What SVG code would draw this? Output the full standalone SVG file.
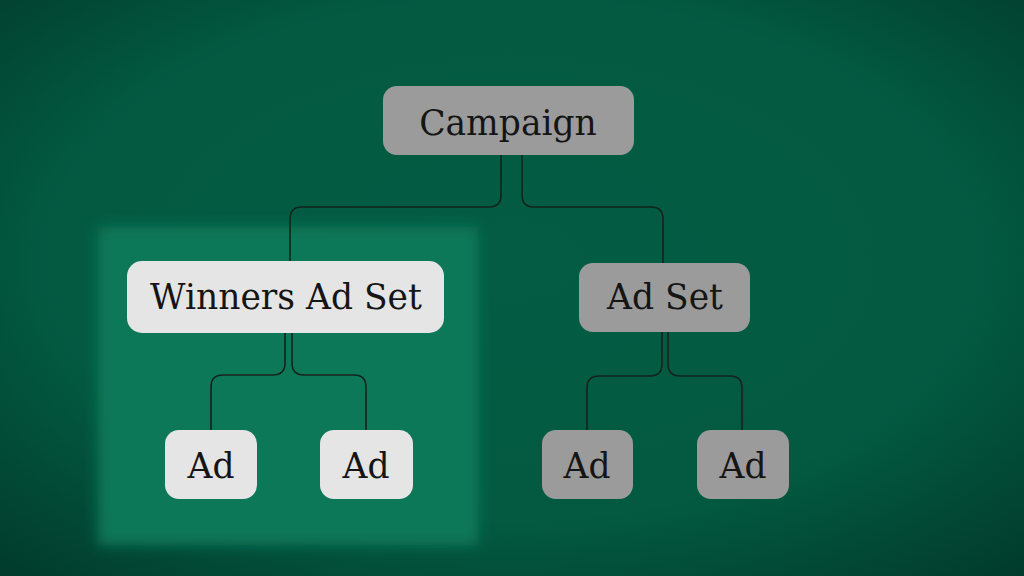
<svg xmlns="http://www.w3.org/2000/svg" width="1024" height="576" viewBox="0 0 1024 576">
<defs>
<radialGradient id="bg" cx="50%" cy="45%" r="75%">
<stop offset="0" stop-color="#035c43"/>
<stop offset="0.6" stop-color="#035a41"/>
<stop offset="1" stop-color="#013a2a"/>
</radialGradient>
<filter id="blur" x="-20%" y="-20%" width="140%" height="140%"><feGaussianBlur stdDeviation="7"/></filter>
<style>
.box-dark{fill:#9b9b9b}
.box-light{fill:#e5e5e5}
.lbl{font-family:"DejaVu Serif","Liberation Serif",serif;font-size:34.5px;fill:#151515;text-anchor:middle}
.conn{fill:none;stroke:#14241c;stroke-width:1.6}
</style>
</defs>
<rect width="1024" height="576" fill="url(#bg)"/>
<rect x="98" y="227" width="380" height="318" fill="#0a7858" filter="url(#blur)"/>
<g id="connectors">
<path class="conn" d="M501 155 V195 Q501 207 489 207 H302 Q290 207 290 219 V262"/>
<path class="conn" d="M522 155 V195 Q522 207 534 207 H651 Q663 207 663 219 V263"/>
<path class="conn" d="M285 333 V363 Q285 375 273 375 H223 Q211 375 211 387 V430"/>
<path class="conn" d="M292 333 V363 Q292 375 304 375 H354 Q366 375 366 387 V430"/>
<path class="conn" d="M662 332 V364 Q662 376 650 376 H599 Q587 376 587 388 V430"/>
<path class="conn" d="M668 332 V364 Q668 376 680 376 H730 Q742 376 742 388 V430"/>
</g>
<g id="campaign"><rect class="box-dark" x="383" y="86" width="251" height="69" rx="14"/><text class="lbl" x="508" y="135">Campaign</text></g>
<g id="winners-ad-set"><rect class="box-light" x="127" y="261" width="317" height="72" rx="15"/><text class="lbl" x="286" y="309">Winners Ad Set</text></g>
<g id="ad-set"><rect class="box-dark" x="579" y="263" width="171" height="69" rx="14"/><text class="lbl" x="665" y="309">Ad Set</text></g>
<g id="ad-1"><rect class="box-light" x="165" y="430" width="92" height="69" rx="14"/><text class="lbl" x="211" y="478">Ad</text></g>
<g id="ad-2"><rect class="box-light" x="320" y="430" width="93" height="69" rx="14"/><text class="lbl" x="366" y="478">Ad</text></g>
<g id="ad-3"><rect class="box-dark" x="542" y="430" width="91" height="69" rx="14"/><text class="lbl" x="587" y="478">Ad</text></g>
<g id="ad-4"><rect class="box-dark" x="697" y="430" width="92" height="69" rx="14"/><text class="lbl" x="743" y="478">Ad</text></g>
</svg>
